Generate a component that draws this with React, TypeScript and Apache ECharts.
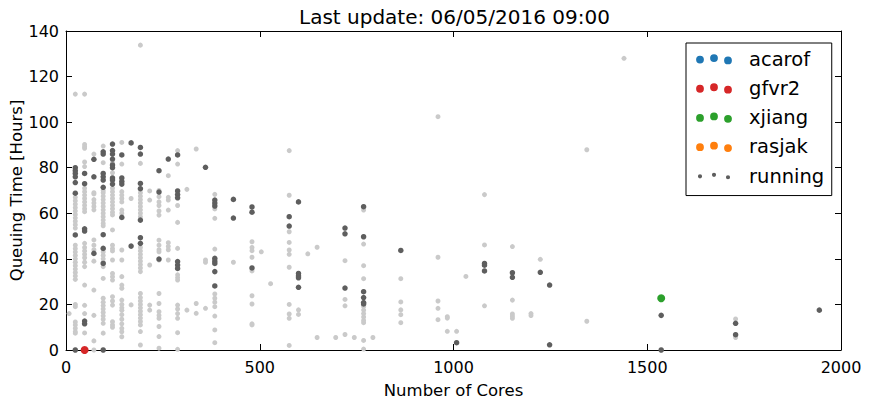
import React, { useEffect, useRef } from "react";
import * as echarts from "echarts";

const titleText = "Last update: 06/05/2016 09:00";
const xAxisTitle = "Number of Cores";
const yAxisTitle = "Queuing Time [Hours]";
const userNames = ["acarof", "gfvr2", "xjiang", "rasjak"];
const userColors = ["#1f77b4", "#d62728", "#2ca02c", "#ff7f0e"];

// [cores, hours] of the jobs of each highlighted user
const acarofJobs: [number, number][] = [];
const gfvr2Jobs: [number, number][] = [[48, 0]];
const xjiangJobs: [number, number][] = [[1536, 22.7]];
const rasjakJobs: [number, number][] = [];

// queued jobs (light grey), grouped by number of cores: [cores, [hours...]]
const queuedColumns: [number, number[]][] = [
  [8, [16]],
  [24, [112.3, 67, 65.5, 64, 62.5, 61, 59.5, 58, 56.5, 55, 53.5, 46, 44.5, 43, 41.5, 40, 38.5, 37, 35.5, 34, 32.5, 31, 20, 19, 12.3, 11, 9.5, 8, 7.4]],
  [48, [112.3, 90.2, 89.2, 88.5, 82.5, 80.5, 71, 69.5, 68, 66.5, 65, 63.5, 62, 60.7, 46.8, 45, 43.5, 42, 40.5, 38.5, 36.6, 28.5, 19.6, 16, 7.5]],
  [72, [86, 69, 68.5, 66, 64.5, 63, 61.5, 48.3, 46, 44, 39, 26.3, 15.2, 4, 0]],
  [96, [89.5, 82.2, 70, 69, 67.5, 66, 64.5, 63, 61.5, 60, 58.5, 57, 55.5, 54.5, 43, 41.5, 40, 38.5, 36.6, 31.4, 22.7, 21, 19.5, 18, 16.5, 15, 13.5, 11.7, 7.4]],
  [120, [82.3, 77.8, 71, 69.5, 68, 66.5, 65, 63.5, 62, 60.5, 59.3, 52.7, 46, 44.5, 43.5, 39.5, 33.6, 32.2, 30.7, 23.4, 21.5, 19.7, 12.4, 11, 10]],
  [144, [91.1, 81.6, 69.5, 68, 66.5, 65, 61.4, 60, 43.9, 39.5, 32.2, 28.5, 27.1, 21.9, 20, 18.5, 17.4, 15.5, 13.5, 11.5, 9.5, 8, 5.8]],
  [168, [66.5, 19.8]],
  [192, [133.8, 81.9, 69, 67.5, 66, 64.5, 63, 61.5, 60, 58.5, 45, 43.5, 42, 40.5, 39, 37.5, 36, 34.4, 24.8, 23, 21.5, 20, 18.5, 17, 15.5, 14, 12.5, 11, 8.1, 2.2]],
  [216, [69.8, 65.8, 37.3, 19.7, 17.5]],
  [240, [70, 67.3, 65, 63.4, 61, 59.2, 48.2, 46, 44, 43.1, 39.5, 24.8, 20.4, 16.8, 15.2, 13.9, 10.3, 5.9, 0.8]],
  [264, [76.5, 67, 65.8, 61.4, 47.1, 45.5, 44, 39.5]],
  [288, [87.5, 81.6, 63.4, 56, 44.6, 33, 31.8, 30.7, 19.7, 18, 16, 13.9, 7.6, 0.3]],
  [312, [70.5, 17.5]],
  [336, [88.2, 20.4, 16.1]],
  [360, [39.5, 38.5, 18.3]],
  [384, [68.3, 61.9, 57.8, 44.3, 24.6, 22.7, 21, 19, 14.9, 8.8, 3.2]],
  [432, [38.5]],
  [480, [47.5, 45, 43.6, 40.7, 34.7, 23.8, 20.2, 11.5, 11]],
  [504, [43.1]],
  [528, [29.1]],
  [576, [87.5, 67.9, 51.9, 47.2, 43.9, 42, 36.3, 20, 15.8, 13.9, 2]],
  [600, [17.6, 15.6]],
  [624, [42.2]],
  [648, [45.1, 5.5]],
  [696, [5.5]],
  [720, [39.2, 22.2, 19.4, 6.8]],
  [744, [5.5]],
  [768, [61.4, 46.5, 37, 31.3, 19.1, 17.5, 16, 14.5, 13, 12, 4.2, 0.4]],
  [792, [5.5]],
  [864, [31.3, 21.1, 17.6, 15.5, 12]],
  [960, [102.4, 40.7, 21.5, 18.3, 13.3]],
  [984, [14.6, 14, 8.2]],
  [1008, [8.2]],
  [1032, [32.3]],
  [1080, [68.2, 46.1, 19.4]],
  [1152, [45.4, 21.9, 15.8, 14.8, 13.9]],
  [1200, [16, 15.1]],
  [1224, [39.8]],
  [1344, [87.9, 12.6]],
  [1440, [128]],
  [1728, [13.6, 5.5]],
];

// running jobs (dark grey), grouped by number of cores
const runningColumns: [number, number[]][] = [
  [24, [80, 78.7, 77.5, 76, 73.5, 68.8, 50.5, 0]],
  [48, [77.5, 73, 53.2, 52.2, 12.7, 11.5]],
  [72, [83.7, 76, 42.4]],
  [96, [87, 86, 77.5, 76, 74.6, 71.4, 50.6, 44.6, 38, 0]],
  [120, [90.4, 87.5, 86, 83.8, 81.2, 80, 75.5, 74.6, 72.8]],
  [144, [85.6, 75.5, 74, 72.8, 58.2]],
  [168, [90.9, 45.6]],
  [192, [88.9, 86, 73.1, 70.8, 57, 49.3, 46.8]],
  [240, [78.7, 69.3, 39.9]],
  [264, [83.8]],
  [288, [85.6, 69.8, 68.2, 66.8, 38.8, 37.3, 35.8]],
  [360, [80.2]],
  [384, [65.8, 64.5, 63.2, 40.2, 39, 38, 34.4, 28.1]],
  [432, [66.1, 57.9]],
  [480, [62.8, 60.5, 36]],
  [576, [58.5, 54.4]],
  [600, [65, 33.6, 32.5, 31.7, 27.5]],
  [720, [53.5, 51, 27.2]],
  [768, [62.9, 49.7, 25.6, 23, 20.8, 20.2]],
  [864, [43.7]],
  [1008, [3.2]],
  [1080, [38, 37.2, 34.7]],
  [1152, [33.9, 31.9]],
  [1224, [34.1]],
  [1248, [28.5, 2.3]],
  [1536, [15.2, 0]],
  [1728, [11.7, 6.7]],
  [1944, [17.5]],
];

const xMin = 0;
const xMax = 2000;
const xInterval = 500;
const yMin = 0;
const yMax = 140;
const yInterval = 20;

function expand(cols: [number, number[]][]): [number, number][] {
  const out: [number, number][] = [];
  cols.forEach(([c, hs]) => hs.forEach((h) => out.push([c, h])));
  return out;
}

// legend icon: three staggered dots (matplotlib scatterpoints = 3)
function dotsIcon(r: number): string {
  const centers = [
    [4, 6.3],
    [18, 4.8],
    [32, 7.2],
  ];
  let d = "path://M0,0L0.01,0.01Z M48,12L47.99,11.99Z";
  centers.forEach(([cx, cy]) => {
    d += ` M${cx - r},${cy}a${r},${r} 0 1,0 ${2 * r},0a${r},${r} 0 1,0 ${-2 * r},0Z`;
  });
  return d;
}

const plainNumber = (v: number) => String(v);

export default function App() {
  const ref = useRef<HTMLDivElement>(null);
  useEffect(() => {
    if (!ref.current) return;
    const chart = echarts.init(ref.current, null, { renderer: "svg" });
    const font = "DejaVu Sans";
    const userData = [acarofJobs, gfvr2Jobs, xjiangJobs, rasjakJobs];
    const axisCommon = {
      type: "value" as const,
      splitLine: { show: false },
      axisLine: { show: true, onZero: false, lineStyle: { color: "#000", width: 1 } },
      axisTick: { show: true, inside: true, length: 6, lineStyle: { color: "#000" } },
    };
    chart.setOption({
      animation: false,
      backgroundColor: "#fff",
      title: {
        text: titleText,
        left: 299,
        top: 7,
        padding: 0,
        textStyle: { fontFamily: font, fontSize: 20, fontWeight: "normal", color: "#000" },
      },
      grid: { left: 66, right: 30, top: 31, bottom: 54, containLabel: false, outerBoundsMode: "none" },
      legend: {
        orient: "vertical",
        left: 686,
        top: 43,
        padding: [6.25, 7.5, 9.5, 10],
        itemWidth: 48,
        itemHeight: 12,
        itemGap: 9.2,
        borderColor: "#000",
        borderWidth: 1,
        borderRadius: 0,
        backgroundColor: "#fff",
        textStyle: { fontFamily: font, fontSize: 19.5, color: "#000" },
        data: [
          ...userNames.map((n) => ({ name: n, icon: dotsIcon(3.9), itemStyle: { opacity: 1 } })),
          { name: "running", icon: dotsIcon(2.1), itemStyle: { opacity: 1 } },
        ],
      },
      xAxis: [
        {
          ...axisCommon,
          position: "bottom",
          min: xMin,
          max: xMax,
          interval: xInterval,
          name: xAxisTitle,
          nameLocation: "middle",
          nameGap: 32,
          nameMoveOverlap: false,
          nameTextStyle: { fontFamily: font, fontSize: 16.5, color: "#000" },
          axisLabel: { fontFamily: font, fontSize: 16, color: "#000", margin: 9, formatter: plainNumber },
        },
        {
          ...axisCommon,
          position: "top",
          min: xMin,
          max: xMax,
          interval: xInterval,
          axisLabel: { show: false },
        },
      ],
      yAxis: [
        {
          ...axisCommon,
          position: "left",
          min: yMin,
          max: yMax,
          interval: yInterval,
          name: yAxisTitle,
          nameLocation: "middle",
          nameGap: 41,
          nameMoveOverlap: false,
          nameTextStyle: { fontFamily: font, fontSize: 16.5, color: "#000" },
          axisLabel: { fontFamily: font, fontSize: 16, color: "#000", margin: 7, formatter: plainNumber },
        },
        {
          ...axisCommon,
          position: "right",
          min: yMin,
          max: yMax,
          interval: yInterval,
          axisLabel: { show: false },
        },
      ],
      series: [
        {
          name: "queued",
          type: "scatter",
          xAxisIndex: 0,
          yAxisIndex: 0,
          symbol: "circle",
          symbolSize: 5,
          itemStyle: { color: "#cacaca", opacity: 1 },
          data: expand(queuedColumns),
          z: 1,
        },
        {
          name: "running",
          type: "scatter",
          xAxisIndex: 0,
          yAxisIndex: 0,
          symbol: "circle",
          symbolSize: 5.5,
          itemStyle: { color: "#5e5e5e", opacity: 1 },
          data: expand(runningColumns),
          z: 2,
        },
        ...userNames.map((n, i) => ({
          name: n,
          type: "scatter",
          xAxisIndex: 0,
          yAxisIndex: 0,
          symbol: "circle",
          symbolSize: 8,
          itemStyle: { color: userColors[i], opacity: 1 },
          data: userData[i],
          z: 3,
        })),
      ],
    });
    return () => chart.dispose();
  }, []);
  return (
    <div
      ref={ref}
      style={{ position: "fixed", left: 0, top: 0, width: 871, height: 404, background: "#fff" }}
    />
  );
}
